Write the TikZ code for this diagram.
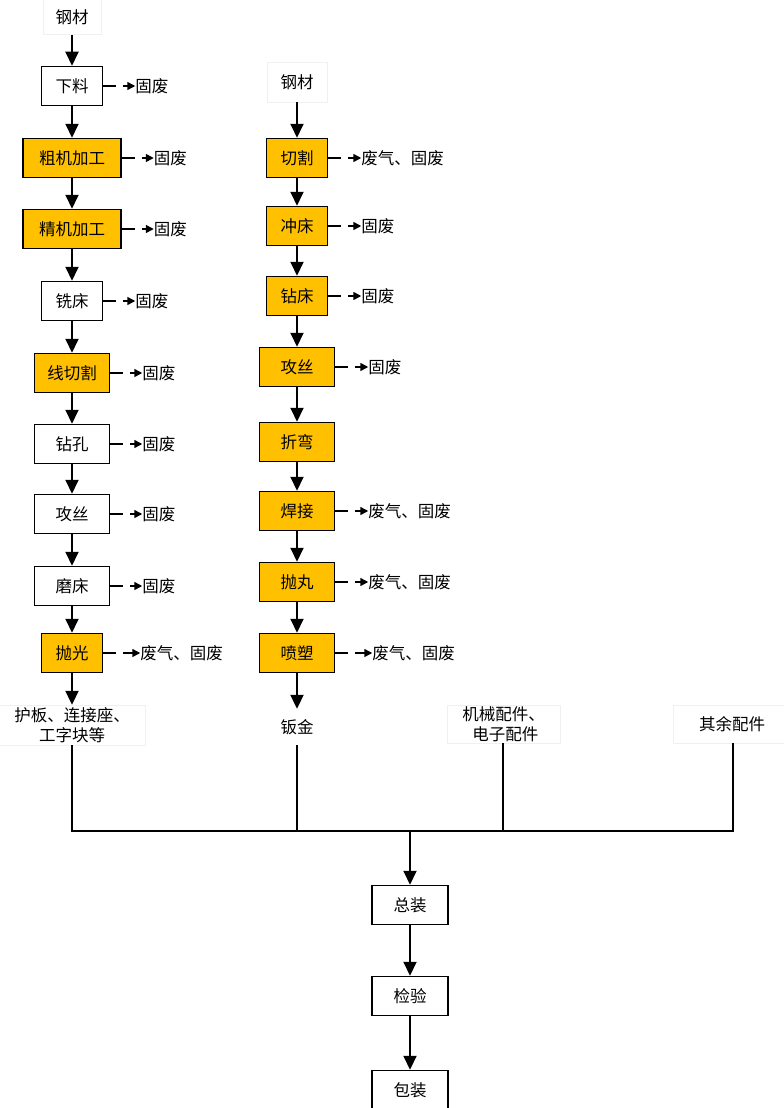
\documentclass[tikz,border=0pt]{standalone}
\usepackage{fontspec}
\newfontfamily\cjk{Noto Sans CJK SC}
\usetikzlibrary{arrows.meta,calc}
\definecolor{boxorange}{HTML}{FFC000}
\tikzset{
  txt/.style={font=\cjk\fontsize{16.5}{20}\selectfont, inner sep=0pt},
  box/.style={txt, draw, line width=1.5pt, minimum height=39pt},
  obox/.style={box, fill=boxorange},
  waste/.style={txt, anchor=west},
  faint/.style={txt, draw=black!6, line width=0.4pt, align=center},
  flow/.style={line width=2pt, -{Triangle[width=13pt,length=14pt]}},
  sarrow/.style={line width=1.5pt, -{Triangle[width=8pt,length=8pt]}},
  stub/.style={line width=1.5pt},
  plain/.style={line width=2pt}
}
\newcommand{\waste}[4]{%
  \node[waste] (#2) at ($(#1.east)+(#3,0)$) {#4};
  \draw[stub] (#1.east) -- ++(13,0);
  \draw[sarrow] ($(#1.east)+(20,0)$) -- (#2.west);}
\begin{document}
\begin{tikzpicture}[x=1pt,y=-1pt]
\useasboundingbox[fill=white] (0,0) rectangle (784,1108);
% left column
\node[faint, minimum width=58pt, minimum height=35pt] (L0) at (72,17) {钢材};
\node[box,  minimum width=61pt] (L1) at (72,86)  {下料};
\node[obox, minimum width=98pt] (L2) at (72,158) {粗机加工};
\node[obox, minimum width=98pt] (L3) at (72,229) {精机加工};
\node[box,  minimum width=61pt] (L4) at (72,301) {铣床};
\node[obox, minimum width=75pt] (L5) at (72,373) {线切割};
\node[box,  minimum width=75pt] (L6) at (72,444) {钻孔};
\node[box,  minimum width=75pt] (L7) at (72,514) {攻丝};
\node[box,  minimum width=75pt] (L8) at (72,586) {磨床};
\node[obox, minimum width=61pt] (L9) at (72,653) {抛光};
\node[faint, minimum width=147pt, minimum height=40pt] (L10) at (72,725) {护板、连接座、\\工字块等};
\foreach \a/\b in {L0/L1,L1/L2,L2/L3,L3/L4,L4/L5,L5/L6,L6/L7,L7/L8,L8/L9,L9/L10}
  \draw[flow] (\a) -- (\b);
\waste{L1}{wL1}{32}{固废}
\waste{L2}{wL2}{32}{固废}
\waste{L3}{wL3}{32}{固废}
\waste{L4}{wL4}{32}{固废}
\waste{L5}{wL5}{32}{固废}
\waste{L6}{wL6}{32}{固废}
\waste{L7}{wL7}{32}{固废}
\waste{L8}{wL8}{32}{固废}
\waste{L9}{wL9}{37}{废气、固废}
% right column
\node[faint, minimum width=60pt, minimum height=40pt] (R0) at (297,82) {钢材};
\node[obox, minimum width=61pt] (R1) at (297,158) {切割};
\node[obox, minimum width=61pt] (R2) at (297,226) {冲床};
\node[obox, minimum width=61pt] (R3) at (297,296) {钻床};
\node[obox, minimum width=75pt] (R4) at (297,367) {攻丝};
\node[obox, minimum width=75pt] (R5) at (297,442) {折弯};
\node[obox, minimum width=75pt] (R6) at (297,511) {焊接};
\node[obox, minimum width=75pt] (R7) at (297,582) {抛丸};
\node[obox, minimum width=75pt] (R8) at (297,653) {喷塑};
\node[txt, minimum width=40pt, minimum height=36pt] (R9) at (297,727) {钣金};
\foreach \a/\b in {R0/R1,R1/R2,R2/R3,R3/R4,R4/R5,R5/R6,R6/R7,R7/R8,R8/R9}
  \draw[flow] (\a) -- (\b);
\waste{R1}{wR1}{33}{废气、固废}
\waste{R2}{wR2}{33}{固废}
\waste{R3}{wR3}{33}{固废}
\waste{R4}{wR4}{33}{固废}
\waste{R6}{wR6}{33}{废气、固废}
\waste{R7}{wR7}{33}{废气、固废}
\waste{R8}{wR8}{37}{废气、固废}
% other parts
\node[faint, minimum width=113pt, minimum height=38pt] (M) at (503.5,724) {机械配件、\\\ 电子配件};
\node[faint, minimum width=111pt, minimum height=38pt] (O) at (728.5,724) {\ \ 其余配件};
% merge
\coordinate (J1) at (72,831);
\coordinate (J2) at (297,831);
\coordinate (J3) at (503,831);
\coordinate (J4) at (733,831);
\coordinate (JA) at (410,831);
\draw[plain] (L10.south) -- (J1) -- (J4) -- (J4 |- O.south);
\draw[plain] (R9.south) -- (J2);
\draw[plain] (J3 |- M.south) -- (J3);
% final chain
\node[box, minimum width=76pt] (F1) at (410,905) {总装};
\node[box, minimum width=76pt] (F2) at (410,996) {检验};
\node[box, minimum width=76pt] (F3) at (410,1090) {包装};
\draw[flow] (JA) -- (F1);
\draw[flow] (F1) -- (F2);
\draw[flow] (F2) -- (F3);
\end{tikzpicture}
\end{document}
